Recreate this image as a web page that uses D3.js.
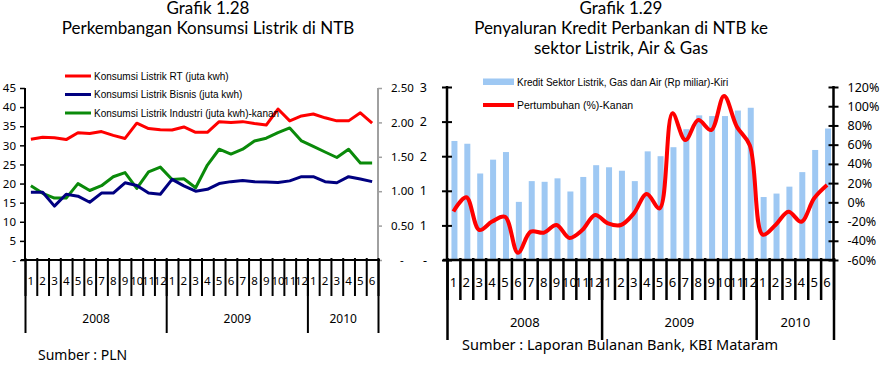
<!DOCTYPE html>
<html>
<head>
<meta charset="utf-8">
<script src="https://cdn.jsdelivr.net/npm/d3@7"></script>
<style>
  body { margin: 0; background: #fff; }
  svg { display: block; }
  text { font-family: "Noto Sans", sans-serif; fill: #000; }
  .legend text { font-family: "Liberation Sans", Arial, sans-serif; }
  .title { font-family: Lato, "Noto Sans", sans-serif; }
  .domain { display: none; }
</style>
</head>
<body>
<svg id="chart" width="890" height="366"></svg>
<script>
// ---- data ----
var monthLabels = ["1","2","3","4","5","6","7","8","9","10","11","12",
                   "1","2","3","4","5","6","7","8","9","10","11","12",
                   "1","2","3","4","5","6"];
var yearLabels = ["2008", "2009", "2010"];
var yearBreaks = [0, 12, 24, 30];   // month index where each year starts / ends

// Grafik 1.28 (juta kwh)
var konsumsiRT = [31.6, 32.1, 32.0, 31.5, 33.3, 33.1, 33.6, 32.6, 31.8, 35.8, 34.4, 34.1,
                  34.0, 34.8, 33.4, 33.4, 36.2, 36.0, 36.2, 35.7, 35.3, 39.5, 36.4, 37.7,
                  38.2, 37.2, 36.4, 36.4, 38.5, 35.8];
var konsumsiBisnis = [17.7, 17.7, 14.1, 17.2, 16.7, 15.1, 17.5, 17.5, 20.2, 19.5, 17.5, 17.2,
                      21.1, 19.4, 18.0, 18.5, 20.0, 20.5, 20.8, 20.5, 20.4, 20.3, 20.7, 21.8,
                      21.8, 20.5, 20.2, 21.8, 21.2, 20.5];
var konsumsiIndustri = [1.08, 0.97, 0.90, 0.90, 1.11, 1.01, 1.08, 1.21, 1.27, 1.04, 1.28, 1.35,
                        1.17, 1.18, 1.05, 1.38, 1.61, 1.54, 1.61, 1.73, 1.77, 1.85, 1.92, 1.73,
                        1.65, 1.57, 1.49, 1.61, 1.41, 1.41];
var leftTicks1 = [0, 5, 10, 15, 20, 25, 30, 35, 40, 45];
var rightTicks1 = [0, 0.5, 1, 1.5, 2, 2.5];

// Grafik 1.29
var kreditListrik = [1.72, 1.68, 1.25, 1.45, 1.56, 0.84, 1.14, 1.13, 1.18, 0.99, 1.20, 1.37,
                     1.34, 1.29, 1.14, 1.57, 1.50, 1.63, 1.89, 2.09, 2.08, 2.08, 2.16, 2.20,
                     0.91, 0.96, 1.06, 1.27, 1.59, 1.90];
var pertumbuhan = [-9.5, 5.2, -28.8, -20, -15, -52.5, -30.5, -31.6, -23.6, -37, -28.8, -13.2,
                   -21.9, -23.6, -11.5, 8.6, -6.3, 92.6, 64.8, 85.6, 75.2, 110.6, 78.7, 59.5,
                   -33.5, -23.5, -9.8, -20.2, 4.2, 18];
var leftTicks2 = [0, 0.5, 1, 1.5, 2, 2.5];
var rightTicks2 = [-60, -40, -20, 0, 20, 40, 60, 80, 100, 120];

var svg = d3.select("#chart");
svg.append("rect").attr("width", 890).attr("height", 366).attr("fill", "#fff");

// month / year axis under a plot
function timeAxis(g, x0, x1, yAxis, opt) {
    var n = monthLabels.length;
    var xLin = d3.scaleLinear().domain([0, n]).range([x0, x1]);
    var xBand = d3.scaleBand().domain(d3.range(n)).range([x0, x1]);

    var monthTicks = g.append("g").attr("transform", "translate(0," + yAxis + ")")
        .call(d3.axisBottom(xLin).tickValues(d3.range(0, n + 1)).tickSize(opt.monthLen).tickFormat(""));
    monthTicks.selectAll(".tick line").attr("y1", -2).attr("stroke", "#000").attr("stroke-width", opt.sw);

    var yearTicks = g.append("g").attr("transform", "translate(0," + yAxis + ")")
        .call(d3.axisBottom(xLin).tickValues(yearBreaks).tickSize(opt.yearLen).tickFormat(""));
    yearTicks.selectAll(".tick line").attr("stroke", "#000").attr("stroke-width", opt.sw);

    var mLab = g.append("g").attr("transform", "translate(0," + yAxis + ")")
        .call(d3.axisBottom(xBand).tickSize(0).tickPadding(opt.monthPad).tickFormat(function(i) { return monthLabels[i]; }));
    mLab.selectAll("text").style("font-size", opt.monthFont + "px");

    var mids = yearLabels.map(function(d, i) { return (yearBreaks[i] + yearBreaks[i + 1]) / 2; });
    var yLab = g.append("g").attr("transform", "translate(0," + yAxis + ")")
        .call(d3.axisBottom(xLin).tickValues(mids).tickSize(0).tickPadding(opt.yearPad)
            .tickFormat(function(d, i) { return yearLabels[i]; }));
    yLab.selectAll("text").style("font-size", opt.yearFont + "px");

    g.append("line").attr("x1", x0 - 4).attr("x2", x1 + 2).attr("y1", yAxis).attr("y2", yAxis)
        .attr("stroke", "#000").attr("stroke-width", opt.sw);
    return xBand;
}

// ================= Grafik 1.28 =================
(function() {
    var g = svg.append("g");
    var x0 = 25, x1 = 378, yTop = 88, yBot = 260;

    g.append("text").attr("class", "title").attr("x", 208).attr("y", 14).attr("text-anchor", "middle")
        .style("font-size", "17px").text("Grafik 1.28");
    g.append("text").attr("class", "title").attr("x", 208).attr("y", 34).attr("text-anchor", "middle")
        .style("font-size", "17px").text("Perkembangan Konsumsi Listrik di NTB");

    var yL = d3.scaleLinear().domain([0, 45]).range([yBot, yTop]);
    var yR = d3.scaleLinear().domain([0, 2.5]).range([yBot, yTop]);

    var left = g.append("g").attr("transform", "translate(" + x0 + ",0)")
        .call(d3.axisLeft(yL).tickValues(leftTicks1).tickSize(5).tickPadding(4)
            .tickFormat(function(d) { return d === 0 ? "-" : d; }));
    left.selectAll("text").style("font-size", "11.5px");
    left.selectAll(".tick line").attr("stroke", "#000").attr("stroke-width", 1.5);
    g.append("line").attr("x1", x0).attr("x2", x0).attr("y1", yTop).attr("y2", yBot)
        .attr("stroke", "#000").attr("stroke-width", 2);

    var right = g.append("g").attr("transform", "translate(" + x1 + ",0)")
        .call(d3.axisRight(yR).tickValues(rightTicks1).tickSize(4).tickPadding(9)
            .tickFormat(function(d) { return d === 0 ? "-" : d3.format(".2f")(d); }));
    right.selectAll("text").style("font-size", "11.5px");
    right.selectAll(".tick text").filter(function(d) { return d === 0; }).attr("x", 22);
    right.selectAll(".tick line").attr("stroke", "#a0a0a0").attr("stroke-width", 1.5);
    g.append("line").attr("x1", x1).attr("x2", x1).attr("y1", yTop).attr("y2", yBot)
        .attr("stroke", "#a0a0a0").attr("stroke-width", 2);

    var x = timeAxis(g, x0, x1, yBot, {
        monthLen: 36, yearLen: 73, monthPad: 17, yearPad: 54,
        monthFont: 11.5, yearFont: 12, sw: 2
    });
    var cx = function(i) { return x(i) + x.bandwidth() / 2; };

    var series = [
        { values: konsumsiRT, scale: yL, color: "#ff0000", label: "Konsumsi Listrik RT (juta kwh)" },
        { values: konsumsiBisnis, scale: yL, color: "#000080", label: "Konsumsi Listrik Bisnis (juta kwh)" },
        { values: konsumsiIndustri, scale: yR, color: "#0a8a0a", label: "Konsumsi Listrik Industri (juta kwh)-kanan" }
    ];

    // lines
    series.slice().reverse().forEach(function(s) {
        var line = d3.line().x(function(d, i) { return cx(i); }).y(function(d) { return s.scale(d); });
        g.append("path").datum(s.values).attr("d", line)
            .attr("fill", "none").attr("stroke", s.color).attr("stroke-width", 3)
            .attr("stroke-linejoin", "round");
    });

    // legend
    var leg = g.append("g").attr("class", "legend");
    series.forEach(function(s, i) {
        var ly = 76 + i * 18.5;
        leg.append("line").attr("x1", 65).attr("x2", 91).attr("y1", ly).attr("y2", ly)
            .attr("stroke", s.color).attr("stroke-width", 3);
        leg.append("text").attr("x", 94).attr("y", ly).attr("dy", "0.35em")
            .style("font-size", "10px").text(s.label);
    });

    g.append("text").attr("x", 38).attr("y", 360).style("font-size", "14px").text("Sumber : PLN");
})();

// ================= Grafik 1.29 =================
(function() {
    var g = svg.append("g");
    var x0 = 447, x1 = 833.5, yTop = 87, yBot = 260;

    g.append("text").attr("class", "title").attr("x", 621).attr("y", 13.5).attr("text-anchor", "middle")
        .style("font-size", "17px").text("Grafik 1.29");
    g.append("text").attr("class", "title").attr("x", 621).attr("y", 33.5).attr("text-anchor", "middle")
        .style("font-size", "17px").text("Penyaluran Kredit Perbankan di NTB ke");
    g.append("text").attr("class", "title").attr("x", 621).attr("y", 53.5).attr("text-anchor", "middle")
        .style("font-size", "17px").text("sektor Listrik, Air & Gas");

    var yL = d3.scaleLinear().domain([0, 2.5]).range([yBot, yTop]);
    var yR = d3.scaleLinear().domain([-60, 120]).range([yBot, yTop]);

    var xb = d3.scaleBand().domain(d3.range(kreditListrik.length)).range([x0, x1]);
    var barW = 6;

    // bars
    g.append("g").selectAll("rect").data(kreditListrik).enter().append("rect")
        .attr("x", function(d, i) { return xb(i) + xb.bandwidth() / 2 - barW / 2 + 1; })
        .attr("y", function(d) { return yL(d); })
        .attr("width", barW)
        .attr("height", function(d) { return yBot - yL(d); })
        .attr("fill", "#9ec8f3");

    var left = g.append("g").attr("transform", "translate(" + x0 + ",0)")
        .call(d3.axisLeft(yL).tickValues(leftTicks2).tickSize(5).tickPadding(15)
            .tickFormat(function(d) { return d === 0 ? "-" : Math.round(d); }));
    left.selectAll("text").style("font-size", "12.5px");
    left.selectAll(".tick line").attr("x2", -5).attr("x1", 5).attr("stroke", "#000").attr("stroke-width", 2);
    g.append("line").attr("x1", x0).attr("x2", x0).attr("y1", yTop - 1).attr("y2", yBot)
        .attr("stroke", "#000").attr("stroke-width", 2.5);

    var right = g.append("g").attr("transform", "translate(" + x1 + ",0)")
        .call(d3.axisRight(yR).tickValues(rightTicks2).tickSize(5).tickPadding(9)
            .tickFormat(function(d) { return d + "%"; }));
    right.selectAll("text").style("font-size", "12.5px");
    right.selectAll(".tick line").attr("x1", -5).attr("stroke", "#000").attr("stroke-width", 2);
    g.append("line").attr("x1", x1).attr("x2", x1).attr("y1", yTop - 1).attr("y2", yBot)
        .attr("stroke", "#000").attr("stroke-width", 2.5);

    var x = timeAxis(g, x0, x1, yBot, {
        monthLen: 40, yearLen: 80, monthPad: 18, yearPad: 58,
        monthFont: 13, yearFont: 13, sw: 2.5
    });
    var cx = function(i) { return x(i) + x.bandwidth() / 2; };

    var line = d3.line().curve(d3.curveCatmullRom.alpha(0.5))
        .x(function(d, i) { return cx(i); }).y(function(d) { return yR(d); });
    g.append("path").datum(pertumbuhan).attr("d", line)
        .attr("fill", "none").attr("stroke", "#ff0000").attr("stroke-width", 4)
        .attr("stroke-linejoin", "round");

    // legend
    var leg = g.append("g").attr("class", "legend");
    leg.append("rect").attr("x", 483).attr("y", 78.5).attr("width", 31).attr("height", 6.5).attr("fill", "#9ec8f3");
    leg.append("text").attr("x", 517).attr("y", 82).attr("dy", "0.35em").style("font-size", "10px")
        .text("Kredit Sektor Listrik, Gas dan Air (Rp miliar)-Kiri");
    leg.append("line").attr("x1", 483).attr("x2", 514).attr("y1", 105).attr("y2", 105)
        .attr("stroke", "#ff0000").attr("stroke-width", 4);
    leg.append("text").attr("x", 517).attr("y", 105).attr("dy", "0.35em").style("font-size", "10.5px")
        .text("Pertumbuhan (%)-Kanan");

    g.append("text").attr("x", 462).attr("y", 350).style("font-size", "14.5px")
        .text("Sumber : Laporan Bulanan Bank, KBI Mataram");
})();
</script>
</body>
</html>
